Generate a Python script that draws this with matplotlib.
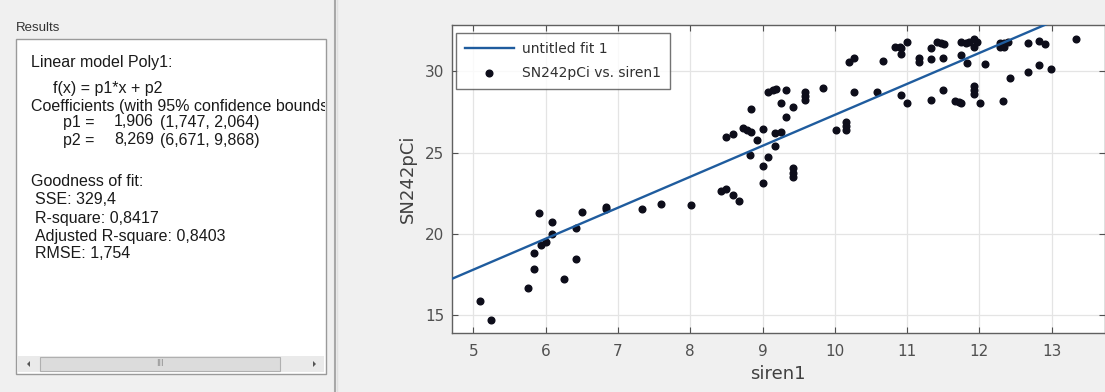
import numpy as np
import matplotlib
matplotlib.use("Agg")
import matplotlib.pyplot as plt
from matplotlib.patches import Rectangle, Polygon

# ---------------- data ----------------
siren1 = [5.09, 5.25, 5.76, 5.84, 5.84, 5.91, 5.93, 6.01, 6.09, 6.09,
          6.25, 6.42, 6.42, 6.50, 6.84, 6.84, 7.33, 7.59, 8.01, 8.42,
          8.50, 8.59, 8.67, 8.83, 8.50, 8.59, 8.73, 8.78, 8.84, 8.92,
          8.84, 9.00, 9.17, 9.25, 9.17, 9.08, 9.00, 9.00, 9.42, 9.42,
          9.42, 9.08, 9.15, 9.19, 9.25, 9.33, 9.42, 9.33, 9.59, 9.59,
          9.59, 9.84, 10.01, 10.16, 10.16, 10.16, 10.19, 10.26, 10.26, 10.59,
          10.67, 10.83, 10.90, 10.92, 10.91, 11.00, 10.91, 11.00, 11.17, 11.17,
          11.33, 11.33, 11.33, 11.42, 11.47, 11.51, 11.50, 11.50, 11.66, 11.72,
          11.75, 11.75, 11.81, 11.85, 11.92, 11.96, 11.92, 11.75, 11.83, 11.92,
          11.92, 11.92, 12.01, 12.08, 12.28, 12.34, 12.40, 12.28, 12.34, 12.67,
          12.83, 12.91, 13.33, 12.83, 12.67, 12.99, 12.42, 12.33]
sn242pci = [15.85, 14.68, 16.65, 17.82, 18.84, 21.29, 19.30, 19.52, 20.75, 19.99,
            17.22, 20.38, 18.44, 21.37, 21.68, 21.52, 21.55, 21.84, 21.76, 22.64,
            22.75, 22.38, 22.01, 24.88, 25.99, 26.15, 26.50, 26.40, 26.29, 25.78,
            27.67, 26.48, 26.19, 26.29, 25.43, 24.72, 24.20, 23.11, 24.04, 23.77,
            23.52, 28.76, 28.86, 28.90, 28.08, 28.86, 27.83, 27.22, 28.76, 28.49,
            28.25, 28.96, 26.40, 26.91, 26.64, 26.40, 30.60, 30.81, 28.76, 28.76,
            30.65, 31.53, 31.53, 31.43, 31.06, 31.84, 28.55, 28.08, 30.81, 30.60,
            30.75, 31.43, 28.25, 31.84, 31.74, 31.69, 30.81, 28.86, 28.18, 28.14,
            28.08, 31.84, 31.77, 31.84, 31.98, 31.84, 31.53, 31.02, 30.54, 29.11,
            28.86, 28.63, 28.08, 30.44, 31.74, 31.77, 31.84, 31.53, 31.53, 31.77,
            31.90, 31.69, 31.98, 30.40, 29.99, 30.15, 29.58, 28.18]

p1 = 1.906
p2 = 8.269

x_ticks = [5, 6, 7, 8, 9, 10, 11, 12, 13]
y_ticks = [15, 20, 25, 30]

results_lines = [
    ("Linear model Poly1:", 31, 63),
    ("f(x) = p1*x + p2", 53, 88),
    ("Coefficients (with 95% confidence bounds):", 31, 107),
    ("Goodness of fit:", 31, 182),
    ("SSE: 329,4", 35, 200),
    ("R-square: 0,8417", 35, 218),
    ("Adjusted R-square: 0,8403", 35, 237),
    ("RMSE: 1,754", 35, 253),
]
coef_rows = [("p1 =", "1,906", "(1,747, 2,064)", 122),
             ("p2 =", "8,269", "(6,671, 9,868)", 140)]

# ---------------- figure ----------------
W, H = 1105, 392
BG = "#f0f0f0"
fig = plt.figure(figsize=(W / 100, H / 100), dpi=100, facecolor=BG)


def fr(x0, y0, w, h):
    return [x0 / W, 1 - (y0 + h) / H, w / W, h / H]


PANEL_FONT = ["Liberation Sans", "DejaVu Sans"]
TXT = "#1a1a1a"
FS = 11.5

# background / left panel drawing axes (pixel coords)
bg = fig.add_axes([0, 0, 1, 1])
bg.set_xlim(0, W)
bg.set_ylim(H, 0)
bg.axis("off")

bg.text(16, 28, "Results", fontsize=9.5, color="#333333", family=PANEL_FONT,
        va="center", ha="left")
# results box
bg.add_patch(Rectangle((15.5, 38.5), 310, 335, facecolor="white",
                       edgecolor="#9a9a9a", lw=1))
# scrollbar
bg.add_patch(Rectangle((17, 356), 307, 16, facecolor="#eaeaea",
                       edgecolor="none"))
bg.add_patch(Rectangle((40, 357), 240, 14, facecolor="#dcdcdc",
                       edgecolor="#b0b0b0", lw=0.8))
bg.text(160, 364, "III", fontsize=6, color="#888888", ha="center",
        va="center")
bg.add_patch(Polygon([[27, 364], [30, 361], [30, 367]], closed=True,
                     facecolor="#555555", edgecolor="none"))
bg.add_patch(Polygon([[316, 364], [313, 361], [313, 367]], closed=True,
                     facecolor="#555555", edgecolor="none"))
# separator
bg.plot([335, 335], [0, H], color="#a8a8a8", lw=1.5)
bg.plot([337, 337], [0, H], color="#e0e0e0", lw=1)

# text area of the results box (clipped)
tb = fig.add_axes(fr(16, 39, 309, 316))
tb.set_xlim(16, 325)
tb.set_ylim(355, 39)
tb.axis("off")
for s, x, y in results_lines:
    tb.text(x, y, s, fontsize=FS, color=TXT, family=PANEL_FONT,
            va="center", ha="left", clip_on=True)
for name, val, ci, y in coef_rows:
    tb.text(63, y, name, fontsize=FS, color=TXT, family=PANEL_FONT,
            va="center", ha="left", clip_on=True)
    tb.text(114, y, val, fontsize=FS, color=TXT, family=PANEL_FONT,
            va="center", ha="left", clip_on=True)
    tb.text(160, y, ci, fontsize=FS, color=TXT, family=PANEL_FONT,
            va="center", ha="left", clip_on=True)

# ---------------- plot axes ----------------
ax = fig.add_axes(fr(451.5, 25, 653, 308))
ax.set_facecolor("white")
xmin, xmax = 4.698, 13.73
ymin, ymax = 13.90, 32.86
ax.set_xlim(xmin, xmax)
ax.set_ylim(ymin, ymax)

pts, = ax.plot(siren1, sn242pci, linestyle="none", marker="o",
               markersize=4.8, color="#0d0d1a", zorder=3,
               label="SN242pCi vs. siren1")
fx = np.array([xmin, xmax])
fit, = ax.plot(fx, p1 * fx + p2, color="#1f5c9e", lw=1.7, zorder=4,
               label="untitled fit 1")

ax.set_xticks(x_ticks)
ax.set_yticks(y_ticks)
ax.grid(True, color="#e4e4e4", lw=0.9)
ax.set_axisbelow(True)
ax.tick_params(direction="in", length=4, width=0.8, colors="#505050",
               labelsize=11, top=True, right=True)
ax.tick_params(axis="x", pad=8)
ax.tick_params(axis="y", pad=5)
for sp in ax.spines.values():
    sp.set_color("#606060")
    sp.set_linewidth(1.0)

ax.set_xlabel("siren1", fontsize=13, color="#404040", labelpad=4)
ax.set_ylabel("SN242pCi", fontsize=13, color="#404040", labelpad=6)

leg = ax.legend(handles=[fit, pts], loc="upper left",
                bbox_to_anchor=(0.0069, 0.974), borderaxespad=0,
                fontsize=10, frameon=True, fancybox=False, numpoints=1,
                handlelength=3.5, handletextpad=0.6, labelspacing=0.75,
                borderpad=0.65)
leg.get_frame().set_edgecolor("#505050")
leg.get_frame().set_linewidth(1.0)
for t in leg.get_texts():
    t.set_color("#303030")

fig.savefig("out.png", dpi=100, facecolor=BG)
